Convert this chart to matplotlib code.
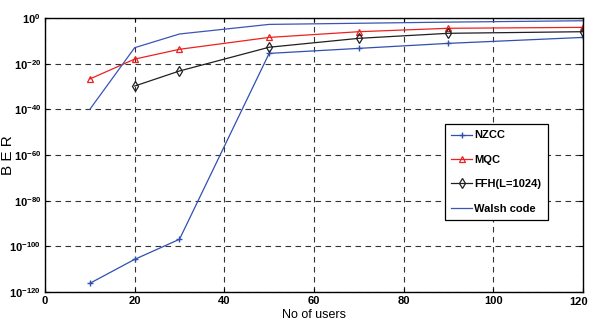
import matplotlib
matplotlib.use("Agg")
import matplotlib.pyplot as plt
import numpy as np

plt.rcParams['font.family'] = ['Liberation Sans', 'DejaVu Sans']
plt.rcParams['mathtext.fontset'] = 'custom'
plt.rcParams['mathtext.rm'] = 'Liberation Sans'
plt.rcParams['mathtext.bf'] = 'Liberation Sans:bold'

users = [10, 20, 30, 50, 70, 90, 120]
nzcc_exp = [-116.2, -105.7, -96.9, -15.5, -13.3, -11.1, -8.5]
mqc_exp = [-26.7, -18.0, -13.7, -8.5, -6.0, -4.5, -4.1]
ffh_users = [20, 30, 50, 70, 90, 120]
ffh_exp = [-29.8, -23.2, -12.8, -8.9, -6.7, -6.0]
walsh_exp = [-40.0, -13.0, -7.0, -2.8, -2.3, -1.8, -1.2]

xticks = [0, 20, 40, 60, 80, 100, 120]
yticks_exp = [0, -20, -40, -60, -80, -100, -120]

fig = plt.figure(figsize=(5.9, 3.31), dpi=100)
ax = fig.add_axes([0.0763, 0.1178, 0.9117, 0.8278])

ax.semilogy(users, 10.0 ** np.array(nzcc_exp), color='#3050b0', lw=0.9,
            marker='+', ms=5, mew=1.0, label='NZCC')
ax.semilogy(users, 10.0 ** np.array(mqc_exp), color='#ee2020', lw=0.9,
            marker='^', ms=5, mfc='none', mew=0.9, label='MQC')
ax.semilogy(ffh_users, 10.0 ** np.array(ffh_exp), color='#202020', lw=0.9,
            marker='d', ms=5, mfc='none', mew=0.9, label='FFH(L=1024)')
ax.semilogy(users, 10.0 ** np.array(walsh_exp), color='#3a55b5', lw=0.9,
            label='Walsh code')

ax.set_xlim(0, 120)
ax.set_ylim(1e-120, 1e0)
ax.set_xticks(xticks)
ax.set_xticklabels([str(v) for v in xticks[:-1]] + [''], fontsize=8, fontweight='bold')
ax.annotate(str(xticks[-1]), xy=(xticks[-1], 0), xycoords=('data', 'axes fraction'),
            xytext=(-3, -3.5), textcoords='offset points', ha='center', va='top',
            fontsize=8, fontweight='bold')
ax.set_yticks([10.0 ** e for e in yticks_exp])
ax.set_yticklabels([r'$\mathbf{10}^{\mathbf{%d}}$' % e for e in yticks_exp], fontsize=8)
ax.minorticks_off()
ax.tick_params(direction='in', length=3, top=True, right=True, width=0.8, pad=3)

ax.grid(True, which='major', color='#333333', linestyle=(0, (5, 4)), lw=0.8)
for s in ax.spines.values():
    s.set_linewidth(1.0)

ax.set_xlabel('No of users', fontsize=9, labelpad=2)
ax.set_ylabel('B E R', fontsize=11, labelpad=-4)

leg = ax.legend(loc='upper left', bbox_to_anchor=(0.7435, 0.612),
                prop={'weight': 'bold', 'size': 8}, frameon=True, fancybox=False,
                edgecolor='black', framealpha=1, handlelength=1.9,
                borderpad=0.55, labelspacing=1.3, handletextpad=0.2,
                borderaxespad=0)
leg.get_frame().set_linewidth(0.9)

fig.savefig('out.png', dpi=100)
